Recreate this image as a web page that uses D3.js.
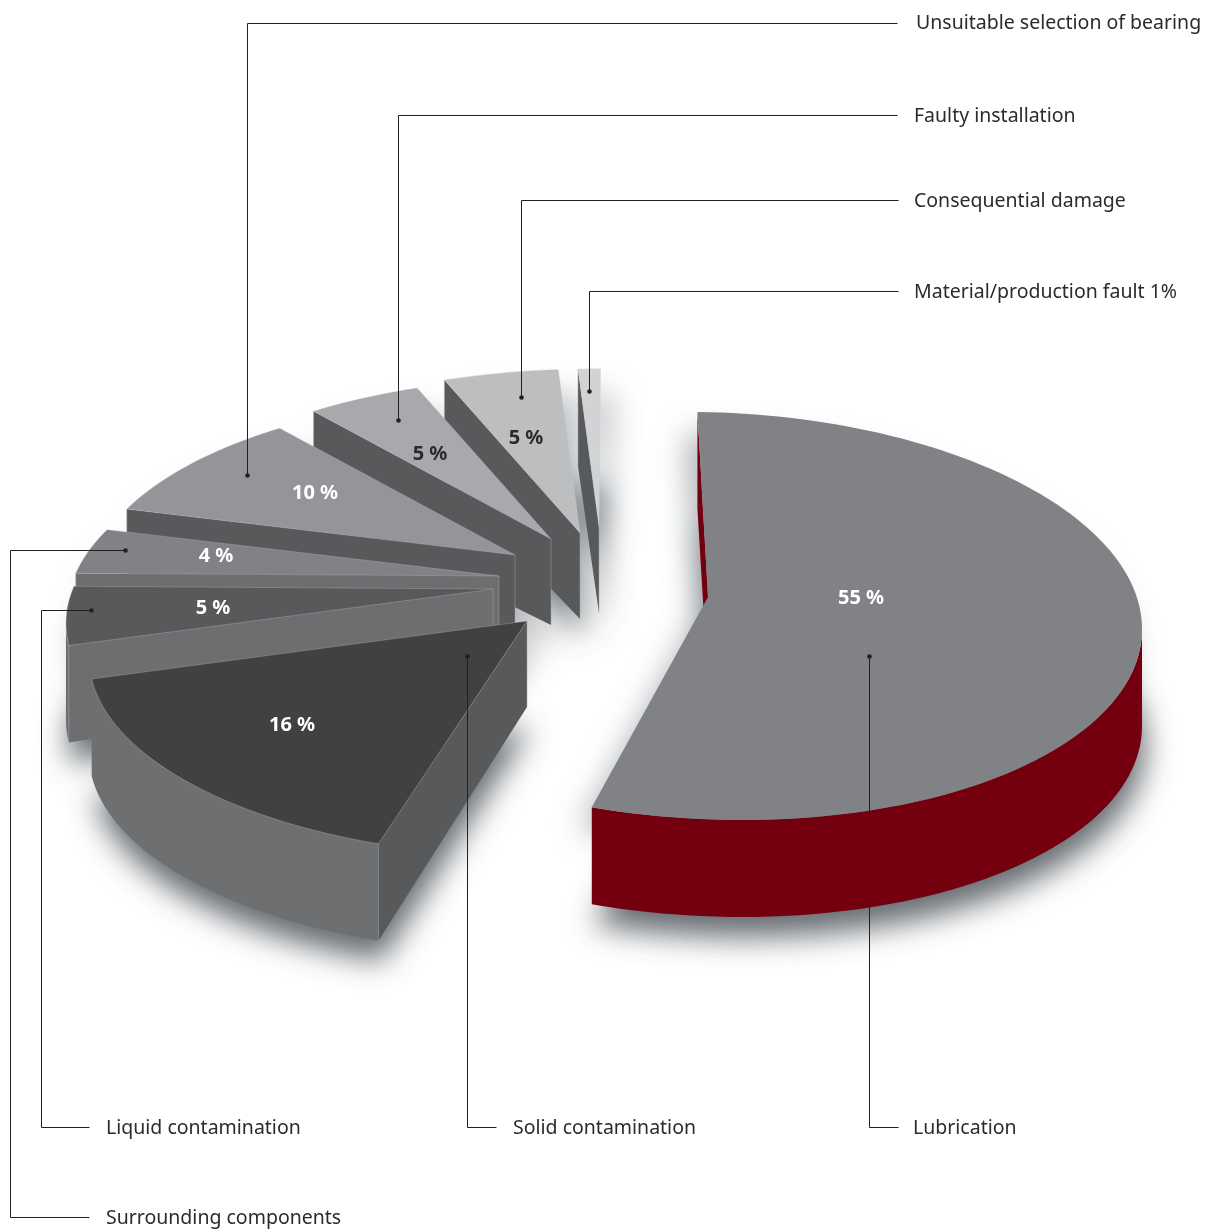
<!DOCTYPE html>
<html><head><meta charset="utf-8">
<script src="https://cdn.jsdelivr.net/npm/d3@7"></script>
<style>html,body{margin:0;padding:0;background:#fff}svg{display:block}</style>
</head><body><div id="chart"></div>
<script>
// ---------- data ----------
const categories = ["Lubrication","Solid contamination","Liquid contamination","Surrounding components","Unsuitable selection of bearing","Faulty installation","Consequential damage","Material/production fault 1%"];
const shares = [55,16,5,4,10,5,5,1];
const shareLabels = ["55 %","16 %","5 %","4 %","10 %","5 %","5 %",""];
// ---------- styles ----------
const topColors = ["#818285","#414141","#58595b","#808285","#939598","#a7a9ac","#bcbec0","#d1d3d4"];
const sideColors = ["#74000f","#58595b","#6d6e70","#6d6e70","#58595b","#58595b","#58595b","#58595b"];
const rimColors = ["#74000f","#6e6f71","#6d6e70","#6d6e70","#58595b","#58595b","#58595b","#58595b"];
const labelColors = ["#fff","#fff","#fff","#fff","#fff","#2b2b2d","#2b2b2d","#fff"];
// ---------- layout: where each exploded wedge's tip lands, its radius factor, label and leader placement ----------
const tips = [[708,597],[527,621],[493,589],[499,576],[515,555],[551,539],[580,533],[599,527]];
const reach = [1,1,0.975,0.985,0.975,0.985,1,0.96];
const labelPos = [[861,597],[292,724],[213,607],[216,555],[315,492],[430,453],[526,437],null];
const leaders = [
 [[869,656],[869,1127],[898,1127]],
 [[467,656],[467,1127],[496,1127]],
 [[91,610],[41,610],[41,1127],[89,1127]],
 [[125,550],[10,550],[10,1217],[89,1217]],
 [[247,475],[247,23],[897,23]],
 [[398,420],[398,115],[897,115]],
 [[521,397],[521,200],[898,200]],
 [[589,391],[589,291],[898,291]]
];
const catLabelPos = [[913,1127],[513,1127],[106,1127],[106,1217],[916,22],[914,115],[914,200],[914,291]];
const paintOrder = [7,6,5,4,3,2,1,0];
// ---------- perspective views: the big wedge and the group of small wedges are drawn in two views ----------
const deg=Math.PI/180;
const mainView = {rx:427,ry:203.6,shear:13,beta:0.0937,bearing:-10.1*deg,twist:8.5*deg,halo:[-12,22]};
const groupView = {rx:450,ry:200,shear:0,beta:0.182,bearing:-8.4*deg,twist:8.5*deg,halo:[10,24]};
function project(view,u,v){
  const E=[Math.sin(view.bearing),-Math.cos(view.bearing)], P=[Math.cos(view.bearing),Math.sin(view.bearing)];
  const w=1+view.beta*u, a=(u+view.beta)/w, b=v*Math.sqrt(1-view.beta*view.beta)/w;
  const nx=a*E[0]+b*P[0], ny=a*E[1]+b*P[1];
  return [view.rx*nx, view.ry*ny+view.shear*nx];
}
const depth=d3.scaleLinear().domain([0,1]).range([86,97]);
const pie=d3.pie().sort(null).value(d=>d);
const arcs=pie(shares);
const line=d3.line();
const svg=d3.select("#chart").append("svg").attr("width",1209).attr("height",1230);
const defs=svg.append("defs");
defs.append("filter").attr("id","soft").attr("x","-30%").attr("y","-30%").attr("width","160%").attr("height","160%")
  .append("feGaussianBlur").attr("stdDeviation",15);

const slices=arcs.map((a,i)=>{
  const view=i===0?mainView:groupView;
  const o=project(view,0,0);
  const pt=(ang,r)=>{const t=ang+view.twist,q=project(view,r*Math.cos(t),r*Math.sin(t));
     return {p:[tips[i][0]+q[0]-o[0],tips[i][1]+q[1]-o[1]],r:r/reach[i]};};
  const steps=Math.max(6,Math.ceil((a.endAngle-a.startAngle)/0.03));
  const rim=d3.range(steps+1).map(k=>pt(a.startAngle+(a.endAngle-a.startAngle)*k/steps,reach[i]));
  const tip={p:tips[i],r:0};
  const down=q=>[q.p[0],q.p[1]+depth(q.r)];
  return {i,rim,tip,down,view};
});
const shadow=svg.append("g").attr("filter","url(#soft)");
slices.forEach(s=>{
  const pts=[s.tip,...s.rim].map(q=>{const d=s.down(q);return [d[0]+3,d[1]+20];});
  shadow.append("path").attr("d",line(pts)+"Z").attr("fill","#4a5157").attr("opacity",0.85);
  shadow.append("path").attr("d",line([s.tip,...s.rim].map(q=>[q.p[0]+s.view.halo[0],q.p[1]+s.view.halo[1]]))+"Z")
    .attr("fill","#7b8288").attr("opacity",0.6);
});
const body=svg.append("g");
paintOrder.forEach(i=>{
  const s=slices[i], g=body.append("g");
  const wall=(list,color)=>g.append("path").attr("d",line([...list.map(q=>q.p),...list.slice().reverse().map(s.down)])+"Z").attr("fill",color);
  // only the wall sections that face the viewer: the first radial edge and the rim where it runs right-to-left
  wall([s.tip,s.rim[0]],sideColors[i]);
  const front=s.rim.filter((q,k)=>{
    const next=s.rim[k+1], prev=s.rim[k-1];
    return (next&&next.p[0]<q.p[0])||(prev&&q.p[0]<prev.p[0]);
  });
  if(front.length>1) wall(front,rimColors[i]);
  if(i>0){
    [s.tip,s.rim[0]].forEach(q=>g.append("path").attr("d",line([q.p,s.down(q)]))
      .attr("stroke","#a5a6a8").attr("stroke-width",0.6).attr("stroke-opacity",0.8).attr("fill","none"));
  }
  g.append("path").attr("d",line([s.tip,...s.rim].map(q=>q.p))+"Z").attr("fill",topColors[i])
     .attr("stroke",i===0?"none":"#c9cacc").attr("stroke-width",0.5).attr("stroke-opacity",0.6);
});
// leaders
const lead=svg.append("g").attr("transform","translate(0.5,0.5)");
leaders.forEach(l=>{
  lead.append("path").attr("d",line(l)).attr("fill","none").attr("stroke","#231f20").attr("stroke-width",1);
  lead.append("circle").attr("cx",l[0][0]).attr("cy",l[0][1]).attr("r",2.3).attr("fill","#231f20");
});
// texts
const font="'Noto Sans',sans-serif";
svg.append("g").selectAll("text").data(categories).join("text")
  .attr("x",(d,i)=>catLabelPos[i][0]).attr("y",(d,i)=>catLabelPos[i][1]+7)
  .attr("font-family",font).attr("font-size",19.5).attr("fill","#2b2b2d").text(d=>d);
svg.append("g").selectAll("text").data(shareLabels.map((t,i)=>({t,i})).filter(d=>d.t)).join("text")
  .attr("x",d=>labelPos[d.i][0]).attr("y",d=>labelPos[d.i][1]+7).attr("text-anchor","middle")
  .attr("font-family",font).attr("font-weight",700).attr("font-size",20).attr("fill",d=>labelColors[d.i]).text(d=>d.t);
</script></body></html>
